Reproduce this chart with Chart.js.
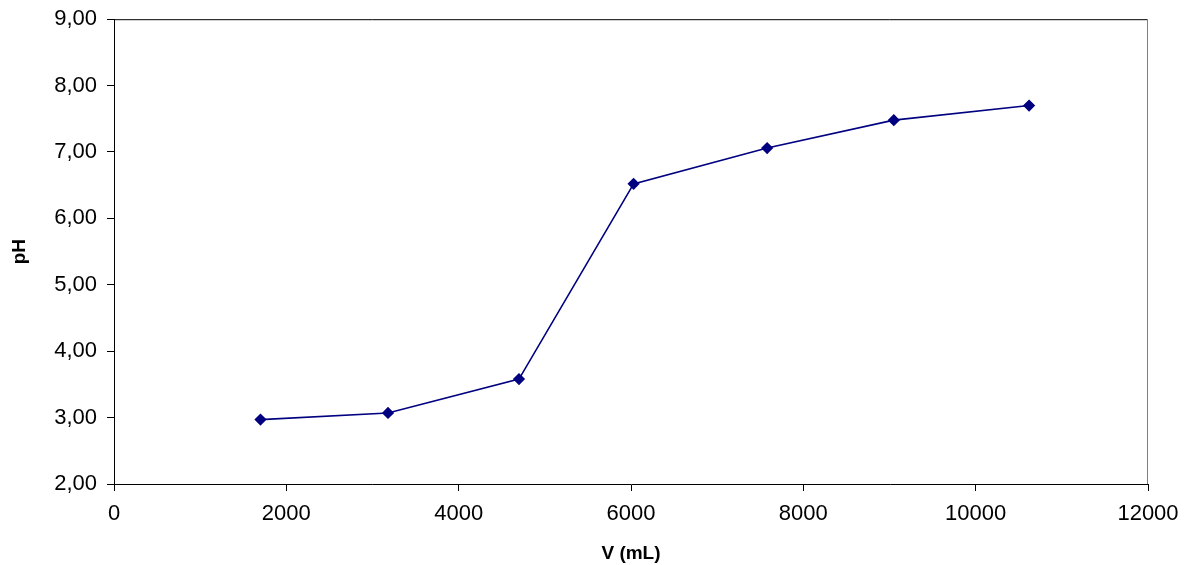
<!DOCTYPE html>
<html>
<head>
<meta charset="utf-8">
<script src="https://cdn.jsdelivr.net/npm/chart.js@4.4.0/dist/chart.umd.min.js"></script>
<style>
  html, body { margin: 0; padding: 0; background: #ffffff; overflow: hidden; }
  #wrap { width: 1190px; height: 565px; position: relative; overflow: hidden; }
  #inner { position: absolute; left: 0; top: -4px; width: 1190px; height: 569px; }
</style>
</head>
<body>
<div id="wrap"><div id="inner"><canvas id="phChart"></canvas></div></div>
<script>
// titration curve: volume added vs measured pH
const volumes = [1700, 3180, 4700, 6030, 7580, 9050, 10620];
const phValues = [2.97, 3.07, 3.58, 6.52, 7.06, 7.48, 7.70];
const xTicks = [0, 2000, 4000, 6000, 8000, 10000, 12000];
const yTicks = [2, 3, 4, 5, 6, 7, 8, 9];

const points = volumes.map((v, i) => ({ x: v, y: phValues[i] }));

// frame around the plot area
const plotBox = {
  id: 'plotBox',
  afterDraw(chart) {
    const a = chart.chartArea;
    const c = chart.ctx;
    c.save();
    c.lineWidth = 1;
    c.strokeStyle = '#000000';
    c.beginPath();
    c.moveTo(a.left + 0.5, a.top + 0.5);
    c.lineTo(a.right - 0.5, a.top + 0.5);
    c.stroke();
    c.strokeStyle = '#7f7f7f';
    c.beginPath();
    c.moveTo(a.right - 0.5, a.top);
    c.lineTo(a.right - 0.5, a.bottom);
    c.stroke();
    c.restore();
  }
};

const ctx = document.getElementById('phChart').getContext('2d');
new Chart(ctx, {
  type: 'line',
  data: {
    datasets: [{
      data: points,
      borderColor: '#000080',
      backgroundColor: '#000080',
      borderWidth: 1.6,
      pointStyle: 'rectRot',
      pointRadius: 5,
      pointHoverRadius: 5,
      tension: 0
    }]
  },
  options: {
    responsive: true,
    maintainAspectRatio: false,
    animation: false,
    layout: { padding: { left: 0, right: 42, top: 14, bottom: 0 } },
    plugins: {
      legend: { display: false },
      tooltip: { enabled: false }
    },
    scales: {
      x: {
        type: 'linear',
        min: 0,
        max: 12000,
        afterBuildTicks: (axis) => { axis.ticks = xTicks.map(v => ({ value: v })); },
        afterFit: (axis) => { axis.height = 81; },
        ticks: {
          color: '#000000',
          font: { family: 'Liberation Sans, Arial', size: 22 },
          padding: 10,
          maxRotation: 0,
          callback: (v) => String(v)
        },
        grid: { drawOnChartArea: false, tickLength: 7, color: '#000000' },
        border: { color: '#000000', width: 1 },
        title: {
          display: true,
          text: 'V (mL)',
          color: '#000000',
          font: { family: 'Liberation Sans, Arial', size: 19, weight: 'bold' },
          padding: { top: 2, bottom: 0 }
        }
      },
      y: {
        type: 'linear',
        min: 2,
        max: 9,
        afterBuildTicks: (axis) => { axis.ticks = yTicks.map(v => ({ value: v })); },
        afterFit: (axis) => { axis.width = 114; },
        ticks: {
          color: '#000000',
          font: { family: 'Liberation Sans, Arial', size: 22 },
          padding: 10,
          callback: (v) => v.toFixed(2).replace('.', ',')
        },
        grid: { drawOnChartArea: false, tickLength: 7, color: '#000000' },
        border: { color: '#000000', width: 1 },
        title: {
          display: true,
          text: 'pH',
          color: '#000000',
          font: { family: 'Liberation Sans, Arial', size: 19, weight: 'bold' },
          padding: { top: 8, bottom: 0 }
        }
      }
    }
  },
  plugins: [plotBox]
});
</script>
</body>
</html>
